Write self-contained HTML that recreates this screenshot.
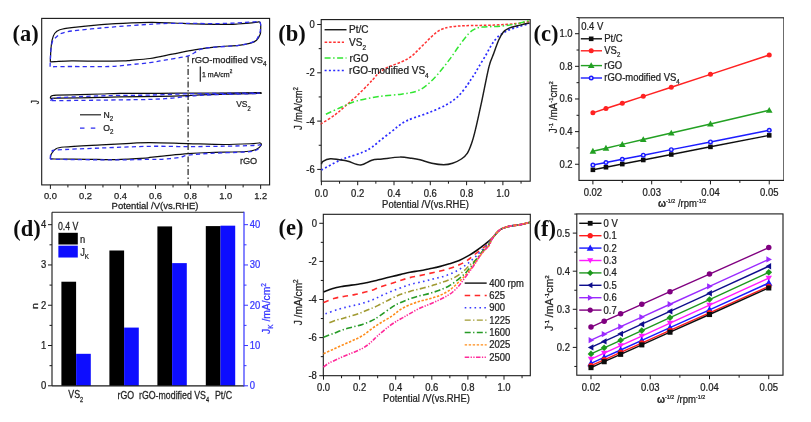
<!DOCTYPE html>
<html><head><meta charset="utf-8"><style>
html,body{margin:0;padding:0;background:#fff;overflow:hidden;}
svg{display:block;}
text{font-family:'Liberation Sans', Arial, sans-serif;}
</style></head><body>
<svg width="811" height="422" viewBox="0 0 811 422">
<defs><filter id="soft" x="0" y="0" width="100%" height="100%"><feGaussianBlur stdDeviation="0.35"/></filter></defs>
<rect width="811" height="422" fill="#fff"/>
<g filter="url(#soft)">
<text x="12.4" y="40.6" style="font-family:Liberation Serif, Times New Roman, serif;font-weight:bold;font-size:22.5px" fill="#111">(a)</text>
<rect x="41.7" y="18.4" width="227.9" height="166.5" fill="none" stroke="#1a1a1a" stroke-width="1.1"/>
<line x1="50.4" y1="184.9" x2="50.4" y2="188.9" stroke="#1a1a1a" stroke-width="1"/>
<line x1="85.44" y1="184.9" x2="85.44" y2="188.9" stroke="#1a1a1a" stroke-width="1"/>
<line x1="120.48" y1="184.9" x2="120.48" y2="188.9" stroke="#1a1a1a" stroke-width="1"/>
<line x1="155.52" y1="184.9" x2="155.52" y2="188.9" stroke="#1a1a1a" stroke-width="1"/>
<line x1="190.56" y1="184.9" x2="190.56" y2="188.9" stroke="#1a1a1a" stroke-width="1"/>
<line x1="225.6" y1="184.9" x2="225.6" y2="188.9" stroke="#1a1a1a" stroke-width="1"/>
<line x1="260.64" y1="184.9" x2="260.64" y2="188.9" stroke="#1a1a1a" stroke-width="1"/>
<line x1="67.92" y1="184.9" x2="67.92" y2="187.4" stroke="#1a1a1a" stroke-width="1"/>
<line x1="102.96" y1="184.9" x2="102.96" y2="187.4" stroke="#1a1a1a" stroke-width="1"/>
<line x1="138" y1="184.9" x2="138" y2="187.4" stroke="#1a1a1a" stroke-width="1"/>
<line x1="173.04" y1="184.9" x2="173.04" y2="187.4" stroke="#1a1a1a" stroke-width="1"/>
<line x1="208.08" y1="184.9" x2="208.08" y2="187.4" stroke="#1a1a1a" stroke-width="1"/>
<line x1="243.12" y1="184.9" x2="243.12" y2="187.4" stroke="#1a1a1a" stroke-width="1"/>
<text transform="translate(50.4,198.5) scale(1.0000,1)" font-size="9.3" text-anchor="middle" fill="#222" stroke="#222" stroke-width="0.25">0.0</text>
<text transform="translate(85.44,198.5) scale(1.0000,1)" font-size="9.3" text-anchor="middle" fill="#222" stroke="#222" stroke-width="0.25">0.2</text>
<text transform="translate(120.48,198.5) scale(1.0000,1)" font-size="9.3" text-anchor="middle" fill="#222" stroke="#222" stroke-width="0.25">0.4</text>
<text transform="translate(155.52,198.5) scale(1.0000,1)" font-size="9.3" text-anchor="middle" fill="#222" stroke="#222" stroke-width="0.25">0.6</text>
<text transform="translate(190.56,198.5) scale(1.0000,1)" font-size="9.3" text-anchor="middle" fill="#222" stroke="#222" stroke-width="0.25">0.8</text>
<text transform="translate(225.6,198.5) scale(1.0000,1)" font-size="9.3" text-anchor="middle" fill="#222" stroke="#222" stroke-width="0.25">1.0</text>
<text transform="translate(260.64,198.5) scale(1.0000,1)" font-size="9.3" text-anchor="middle" fill="#222" stroke="#222" stroke-width="0.25">1.2</text>
<text transform="translate(155,208.7) scale(1.0200,1)" font-size="9.3" text-anchor="middle" fill="#222" stroke="#222" stroke-width="0.25">Potential /V(vs.RHE)</text>
<text transform="translate(39.1,102.2) rotate(-90) scale(0.8000,1)" font-size="10" text-anchor="middle" fill="#222" stroke="#222" stroke-width="0.25">J</text>
<path d="M50.3,61.8 C50.35,60.67 50.5,57.13 50.6,55 C50.7,52.87 50.65,51.47 50.9,49 C51.15,46.53 51.48,42.78 52.1,40.2 C52.72,37.62 53.32,35.23 54.6,33.5 C55.88,31.77 56.97,30.78 59.8,29.8 C62.63,28.82 64.7,28.47 71.6,27.6 C78.5,26.73 91.23,25.4 101.2,24.6 C111.17,23.8 122.87,23.17 131.4,22.8 C139.93,22.43 145.4,22.37 152.4,22.4 C159.4,22.43 166.42,22.75 173.4,23 C180.38,23.25 187.32,23.68 194.3,23.9 C201.28,24.12 209.35,24.22 215.3,24.3 C221.25,24.38 226.22,24.45 230,24.4 C233.78,24.35 235.33,24.17 238,24 C240.67,23.83 243.67,23.6 246,23.4 C248.33,23.2 250.1,23.02 252,22.8 C253.9,22.58 256.13,22.25 257.4,22.1 C258.67,21.95 259.07,21.5 259.6,21.9 C260.13,22.3 260.42,23.32 260.6,24.5 C260.78,25.68 260.77,27.38 260.7,29 C260.63,30.62 260.9,32.33 260.2,34.2 C259.5,36.07 258.1,38.72 256.5,40.2 C254.9,41.68 253.55,42.25 250.6,43.1 C247.65,43.95 244.47,44.68 238.8,45.3 C233.13,45.92 224,46.05 216.6,46.8 C209.2,47.55 201.8,48.57 194.4,49.8 C187,51.03 179.6,52.75 172.2,54.2 C164.8,55.65 156.9,57.48 150,58.5 C143.1,59.52 135.23,59.9 130.8,60.3 C126.37,60.7 128.33,60.75 123.4,60.9 C118.47,61.05 109.83,61.2 101.2,61.2 C92.57,61.2 79.3,60.83 71.6,60.9 C63.9,60.97 58.55,61.45 55,61.6 C51.45,61.75 51.08,61.77 50.3,61.8" fill="none" stroke="#111" stroke-width="1.2"/>
<path d="M50.1,66.8 C50.15,65.33 50.28,60.63 50.4,58 C50.52,55.37 50.47,53.73 50.8,51 C51.13,48.27 51.52,43.9 52.4,41.6 C53.28,39.3 54.63,38.55 56.1,37.2 C57.57,35.85 58.62,34.53 61.2,33.5 C63.78,32.47 64.93,31.92 71.6,31 C78.27,30.08 91.23,28.92 101.2,28 C111.17,27.08 122.87,26.15 131.4,25.5 C139.93,24.85 147.15,24.43 152.4,24.1 C157.65,23.77 158.3,23.63 162.9,23.5 C167.5,23.37 174.77,23.32 180,23.3 C185.23,23.28 188.42,23.35 194.3,23.4 C200.18,23.45 208.3,23.67 215.3,23.6 C222.3,23.53 230.18,23.27 236.3,23 C242.42,22.73 248.52,22.23 252,22 C255.48,21.77 255.98,21.7 257.2,21.6 C258.42,21.5 258.73,21.02 259.3,21.4 C259.87,21.78 260.42,22.63 260.6,23.9 C260.78,25.17 260.47,27.77 260.4,29 C260.33,30.23 260.6,29.93 260.2,31.3 C259.8,32.67 259.1,35.48 258,37.2 C256.9,38.92 256.8,40.25 253.6,41.6 C250.4,42.95 246.2,44.3 238.8,45.3 C231.4,46.3 215.62,46.93 209.2,47.6 C202.78,48.27 202.77,48.45 200.3,49.3 C197.83,50.15 196.37,51.62 194.4,52.7 C192.43,53.78 190.97,54.98 188.5,55.8 C186.03,56.62 183.55,56.88 179.6,57.6 C175.65,58.32 169.73,59.27 164.8,60.1 C159.87,60.93 155.67,61.85 150,62.6 C144.33,63.35 137.7,63.95 130.8,64.6 C123.9,65.25 118.47,66.18 108.6,66.5 C98.73,66.82 80.53,66.47 71.6,66.5 C62.67,66.53 58.58,66.65 55,66.7 C51.42,66.75 50.92,66.78 50.1,66.8" fill="none" stroke="#2f2ff0" stroke-width="1.3" stroke-dasharray="4.2,3.2"/>
<path d="M50.3,98.4 C50.37,98.1 50.37,97.07 50.7,96.6 C51.03,96.13 51.28,95.85 52.3,95.6 C53.32,95.35 52.18,95.27 56.8,95.1 C61.42,94.93 72.6,94.78 80,94.6 C87.4,94.42 94.53,94.2 101.2,94 C107.87,93.8 110.2,93.52 120,93.4 C129.8,93.28 146.67,93.35 160,93.3 C173.33,93.25 186.67,93.18 200,93.1 C213.33,93.02 230.33,92.88 240,92.8 C249.67,92.72 254.5,92.6 258,92.6 C261.5,92.6 261,92.65 261,92.8 C261,92.95 263.17,93.27 258,93.5 C252.83,93.73 239.67,93.97 230,94.2 C220.33,94.43 207,94.67 200,94.9 C193,95.13 194.67,95.35 188,95.6 C181.33,95.85 171.33,96.2 160,96.4 C148.67,96.6 129.8,96.63 120,96.8 C110.2,96.97 111.73,97.17 101.2,97.4 C90.67,97.63 65.25,98.05 56.8,98.2 C48.35,98.35 51.55,98.28 50.5,98.3" fill="none" stroke="#111" stroke-width="1.2"/>
<path d="M50.2,100.6 C50.5,100.38 51.03,99.77 52,99.3 C52.97,98.83 53.83,98.13 56,97.8 C58.17,97.47 61,97.5 65,97.3 C69,97.1 74.17,96.83 80,96.6 C85.83,96.37 93.33,96.1 100,95.9 C106.67,95.7 111.67,95.53 120,95.4 C128.33,95.27 139.17,95.35 150,95.1 C160.83,94.85 173.33,94.18 185,93.9 C196.67,93.62 208.33,93.55 220,93.4 C231.67,93.25 248.5,93.03 255,93 C261.5,92.97 259,93.1 259,93.2 C259,93.3 261.5,93.38 255,93.6 C248.5,93.82 229.17,94.2 220,94.5 C210.83,94.8 205.33,95.1 200,95.4 C194.67,95.7 193,95.82 188,96.3 C183,96.78 176.33,97.78 170,98.3 C163.67,98.82 158.33,99.13 150,99.4 C141.67,99.67 131.67,99.73 120,99.9 C108.33,100.07 90,100.28 80,100.4 C70,100.52 64.97,100.57 60,100.6 C55.03,100.63 51.83,100.6 50.2,100.6" fill="none" stroke="#2f2ff0" stroke-width="1.3" stroke-dasharray="4.2,3.2"/>
<path d="M50.4,158.6 C50.47,158.08 50.6,156.32 50.8,155.5 C51,154.68 50.85,154.75 51.6,153.7 C52.35,152.65 53.2,150.32 55.3,149.2 C57.4,148.08 56.55,147.73 64.2,147 C71.85,146.27 90.1,145.42 101.2,144.8 C112.3,144.18 122.67,143.67 130.8,143.3 C138.93,142.93 140.47,142.55 150,142.6 C159.53,142.65 175.67,143.28 188,143.6 C200.33,143.92 213.07,144.5 224,144.5 C234.93,144.5 247.57,143.85 253.6,143.6 C259.63,143.35 258.97,142.68 260.2,143 C261.43,143.32 261.62,144.47 261,145.5 C260.38,146.53 258.97,148.2 256.5,149.2 C254.03,150.2 254.08,150.95 246.2,151.5 C238.32,152.05 218.9,152.13 209.2,152.5 C199.5,152.87 195.4,153.13 188,153.7 C180.6,154.27 171.13,155.28 164.8,155.9 C158.47,156.52 153.2,157.03 150,157.4 C146.8,157.77 151.27,157.73 145.6,158.1 C139.93,158.47 125.87,159.4 116,159.6 C106.13,159.8 96.57,159.4 86.4,159.3 C76.23,159.2 61,159.12 55,159 C49,158.88 51.17,158.67 50.4,158.6" fill="none" stroke="#111" stroke-width="1.2"/>
<path d="M50.3,159 C50.35,158.33 50.23,156.17 50.6,155 C50.97,153.83 51.47,152.83 52.5,152 C53.53,151.17 48.68,150.67 56.8,150 C64.92,149.33 85.67,148.62 101.2,148 C116.73,147.38 135.53,146.53 150,146.3 C164.47,146.07 175.67,146.62 188,146.6 C200.33,146.58 213.07,146.38 224,146.2 C234.93,146.02 247.52,145.73 253.6,145.5 C259.68,145.27 259.6,144.47 260.5,144.8 C261.4,145.13 259.67,146.63 259,147.5 C258.33,148.37 258.63,149.27 256.5,150 C254.37,150.73 254.08,151.33 246.2,151.9 C238.32,152.47 218.9,152.85 209.2,153.4 C199.5,153.95 192.93,154.53 188,155.2 C183.07,155.87 183.93,156.72 179.6,157.4 C175.27,158.08 166.93,158.98 162,159.3 C157.07,159.62 157.67,159.2 150,159.3 C142.33,159.4 131,159.88 116,159.9 C101,159.92 70.95,159.55 60,159.4 C49.05,159.25 51.92,159.07 50.3,159" fill="none" stroke="#2f2ff0" stroke-width="1.3" stroke-dasharray="4.2,3.2"/>
<line x1="188.1" y1="55.5" x2="188.1" y2="185" stroke="#222" stroke-width="1.2" stroke-dasharray="6.2,2.4,1.5,2.4" stroke-dashoffset="-0.9"/>
<text transform="translate(191.6,62.6) scale(1.0000,1)" font-size="9.4" text-anchor="start" fill="#222" stroke="#222" stroke-width="0.25">rGO-modified VS<tspan font-size="6.3" dy="3.3">4</tspan></text>
<line x1="200.3" y1="66.5" x2="200.3" y2="81.8" stroke="#222" stroke-width="1.2"/>
<text transform="translate(202,77) scale(1.0000,1)" font-size="7" text-anchor="start" fill="#222" stroke="#222" stroke-width="0.25">1 mA/cm<tspan font-size="4.6" dy="-3.6">2</tspan></text>
<text transform="translate(236.2,107.2) scale(0.9000,1)" font-size="9.4" text-anchor="start" fill="#222" stroke="#222" stroke-width="0.25">VS<tspan font-size="6.3" dy="3.6">2</tspan></text>
<text transform="translate(239.9,163.9) scale(0.9600,1)" font-size="9.6" text-anchor="start" fill="#222" stroke="#222" stroke-width="0.25">rGO</text>
<line x1="80" y1="114.8" x2="101" y2="114.8" stroke="#222" stroke-width="1.2"/>
<text transform="translate(103.4,117.9) scale(0.9800,1)" font-size="8.8" text-anchor="start" fill="#222" stroke="#222" stroke-width="0.25">N<tspan font-size="6.3" dy="3.4">2</tspan></text>
<line x1="80" y1="128.1" x2="101" y2="128.1" stroke="#2f2ff0" stroke-width="1.2" stroke-dasharray="4.5,6.3"/>
<text transform="translate(103.2,130.7) scale(0.9800,1)" font-size="8.8" text-anchor="start" fill="#222" stroke="#222" stroke-width="0.25">O<tspan font-size="6.3" dy="3.6">2</tspan></text>
<text x="278.3" y="40.6" style="font-family:Liberation Serif, Times New Roman, serif;font-weight:bold;font-size:22.5px" fill="#111">(b)</text>
<rect x="321.2" y="19.6" width="209" height="161.6" fill="none" stroke="#1a1a1a" stroke-width="1.1"/>
<line x1="321.4" y1="181.2" x2="321.4" y2="185.2" stroke="#1a1a1a" stroke-width="1"/>
<line x1="357.7" y1="181.2" x2="357.7" y2="185.2" stroke="#1a1a1a" stroke-width="1"/>
<line x1="394" y1="181.2" x2="394" y2="185.2" stroke="#1a1a1a" stroke-width="1"/>
<line x1="430.3" y1="181.2" x2="430.3" y2="185.2" stroke="#1a1a1a" stroke-width="1"/>
<line x1="466.6" y1="181.2" x2="466.6" y2="185.2" stroke="#1a1a1a" stroke-width="1"/>
<line x1="502.9" y1="181.2" x2="502.9" y2="185.2" stroke="#1a1a1a" stroke-width="1"/>
<line x1="339.55" y1="181.2" x2="339.55" y2="183.7" stroke="#1a1a1a" stroke-width="1"/>
<line x1="375.85" y1="181.2" x2="375.85" y2="183.7" stroke="#1a1a1a" stroke-width="1"/>
<line x1="412.15" y1="181.2" x2="412.15" y2="183.7" stroke="#1a1a1a" stroke-width="1"/>
<line x1="448.45" y1="181.2" x2="448.45" y2="183.7" stroke="#1a1a1a" stroke-width="1"/>
<line x1="484.75" y1="181.2" x2="484.75" y2="183.7" stroke="#1a1a1a" stroke-width="1"/>
<line x1="521.05" y1="181.2" x2="521.05" y2="183.7" stroke="#1a1a1a" stroke-width="1"/>
<text transform="translate(321.4,197.2) scale(0.9300,1)" font-size="10.2" text-anchor="middle" fill="#222" stroke="#222" stroke-width="0.25">0.0</text>
<text transform="translate(357.7,197.2) scale(0.9300,1)" font-size="10.2" text-anchor="middle" fill="#222" stroke="#222" stroke-width="0.25">0.2</text>
<text transform="translate(394,197.2) scale(0.9300,1)" font-size="10.2" text-anchor="middle" fill="#222" stroke="#222" stroke-width="0.25">0.4</text>
<text transform="translate(430.3,197.2) scale(0.9300,1)" font-size="10.2" text-anchor="middle" fill="#222" stroke="#222" stroke-width="0.25">0.6</text>
<text transform="translate(466.6,197.2) scale(0.9300,1)" font-size="10.2" text-anchor="middle" fill="#222" stroke="#222" stroke-width="0.25">0.8</text>
<text transform="translate(502.9,197.2) scale(0.9300,1)" font-size="10.2" text-anchor="middle" fill="#222" stroke="#222" stroke-width="0.25">1.0</text>
<line x1="321.2" y1="24.5" x2="317.2" y2="24.5" stroke="#1a1a1a" stroke-width="1"/>
<line x1="321.2" y1="72.8" x2="317.2" y2="72.8" stroke="#1a1a1a" stroke-width="1"/>
<line x1="321.2" y1="121.1" x2="317.2" y2="121.1" stroke="#1a1a1a" stroke-width="1"/>
<line x1="321.2" y1="169.4" x2="317.2" y2="169.4" stroke="#1a1a1a" stroke-width="1"/>
<line x1="321.2" y1="48.65" x2="318.7" y2="48.65" stroke="#1a1a1a" stroke-width="1"/>
<line x1="321.2" y1="96.95" x2="318.7" y2="96.95" stroke="#1a1a1a" stroke-width="1"/>
<line x1="321.2" y1="145.25" x2="318.7" y2="145.25" stroke="#1a1a1a" stroke-width="1"/>
<text transform="translate(314.7,27.9) scale(0.9300,1)" font-size="10.2" text-anchor="end" fill="#222" stroke="#222" stroke-width="0.25">0</text>
<text transform="translate(314.7,76.2) scale(0.9300,1)" font-size="10.2" text-anchor="end" fill="#222" stroke="#222" stroke-width="0.25">-2</text>
<text transform="translate(314.7,124.5) scale(0.9300,1)" font-size="10.2" text-anchor="end" fill="#222" stroke="#222" stroke-width="0.25">-4</text>
<text transform="translate(314.7,172.8) scale(0.9300,1)" font-size="10.2" text-anchor="end" fill="#222" stroke="#222" stroke-width="0.25">-6</text>
<text transform="translate(425.5,207.7) scale(0.9300,1)" font-size="10.2" text-anchor="middle" fill="#222" stroke="#222" stroke-width="0.25">Potential /V(vs.RHE)</text>
<text transform="translate(301.5,108.5) rotate(-90) scale(0.9300,1)" font-size="10.2" text-anchor="middle" fill="#222" stroke="#222" stroke-width="0.25">J /mA/cm<tspan font-size="6.5" dy="-3.5">2</tspan></text>
<path d="M321.4,123.3 C321.53,123.27 319.97,124.48 322.2,123.1 C324.43,121.72 330.97,117.83 334.8,115 C338.63,112.17 341.5,109.32 345.2,106.1 C348.9,102.88 353.07,99.4 357,95.7 C360.93,92 365.97,86.82 368.8,83.9 C371.63,80.98 372.38,79.97 374,78.2 C375.62,76.43 376.57,74.95 378.5,73.3 C380.43,71.65 383.23,69.63 385.6,68.3 C387.97,66.97 390.08,66.35 392.7,65.3 C395.32,64.25 398.68,63.15 401.3,62 C403.92,60.85 406.28,59.72 408.4,58.4 C410.52,57.08 412.12,55.77 414,54.1 C415.88,52.43 417.8,50.28 419.7,48.4 C421.6,46.52 423.5,44.68 425.4,42.8 C427.3,40.92 429.2,38.88 431.1,37.1 C433,35.32 434.92,33.45 436.8,32.1 C438.68,30.75 440.28,29.83 442.4,29 C444.52,28.17 445.83,27.65 449.5,27.1 C453.17,26.55 456.98,26.03 464.4,25.7 C471.82,25.37 485.37,25.45 494,25.1 C502.63,24.75 510.23,24.2 516.2,23.6 C522.17,23 527.53,21.85 529.8,21.5" fill="none" stroke="#ff3333" stroke-width="1.5" stroke-dasharray="2.6,1.7"/>
<path d="M325.9,114.2 C328.62,112.97 337.02,109.02 342.2,106.8 C347.38,104.58 350.83,102.62 357,100.9 C363.17,99.18 371.8,97.62 379.2,96.5 C386.6,95.38 395.23,95.07 401.4,94.2 C407.57,93.33 412.02,92.77 416.2,91.3 C420.38,89.83 422.9,88.25 426.5,85.4 C430.1,82.55 433.95,78.53 437.8,74.2 C441.65,69.87 445.9,64.33 449.6,59.4 C453.3,54.47 456.8,48.92 460,44.6 C463.2,40.28 466.35,36.08 468.8,33.5 C471.25,30.92 472.48,30.17 474.7,29.1 C476.92,28.03 477.65,27.6 482.1,27.1 C486.55,26.6 495.72,26.63 501.4,26.1 C507.08,25.57 511.47,24.85 516.2,23.9 C520.93,22.95 527.53,20.98 529.8,20.4" fill="none" stroke="#33e633" stroke-width="1.5" stroke-dasharray="6,2.5,1.5,2.5"/>
<path d="M321.4,170.1 C324.37,168.5 334.5,162.72 339.2,160.5 C343.9,158.28 345.65,158.18 349.6,156.8 C353.55,155.42 359.2,153.78 362.9,152.2 C366.6,150.62 368.78,149.37 371.8,147.3 C374.82,145.23 377.8,142.35 381,139.8 C384.2,137.25 388.17,134.23 391,132 C393.83,129.77 395.67,128.13 398,126.4 C400.33,124.67 402.47,122.98 405,121.6 C407.53,120.22 409.07,119.65 413.2,118.1 C417.32,116.55 424.23,114.52 429.75,112.3 C435.27,110.08 441.59,107.43 446.3,104.8 C451.01,102.17 454.4,99.93 458,96.5 C461.6,93.07 465.62,87.23 467.9,84.2 C470.18,81.17 470.6,79.97 471.7,78.3 C472.8,76.63 473.3,76.15 474.5,74.2 C475.7,72.25 477.08,69.65 478.9,66.6 C480.72,63.55 483.33,59.45 485.4,55.9 C487.47,52.35 489.52,48.17 491.3,45.3 C493.08,42.43 494.52,40.48 496.1,38.7 C497.68,36.92 498.63,36.07 500.8,34.6 C502.97,33.13 505.93,31.28 509.1,29.9 C512.27,28.52 516.4,27.37 519.8,26.3 C523.2,25.23 527.88,23.97 529.5,23.5" fill="none" stroke="#2a2aff" stroke-width="1.7" stroke-dasharray="2,2.3"/>
<path d="M321.4,164.2 C321.67,163.72 321.5,162.22 323,161.3 C324.5,160.38 327.7,158.95 330.4,158.7 C333.1,158.45 336.25,159.37 339.2,159.8 C342.15,160.23 344.52,160.43 348.1,161.3 C351.68,162.17 356.75,165.18 360.7,165 C364.65,164.82 368.23,161.2 371.8,160.2 C375.37,159.2 377.42,159.52 382.1,159 C386.78,158.48 394.97,157.22 399.9,157.1 C404.83,156.98 408.35,157.85 411.7,158.3 C415.05,158.75 416.65,158.98 420,159.8 C423.35,160.62 427.85,162.38 431.8,163.2 C435.75,164.02 440.23,164.7 443.7,164.7 C447.17,164.7 449.65,164.15 452.6,163.2 C455.55,162.25 458.93,160.68 461.4,159 C463.87,157.32 465.67,155.8 467.4,153.1 C469.13,150.4 470.45,146.75 471.8,142.8 C473.15,138.85 473.78,136.6 475.5,129.4 C477.22,122.2 479.85,110.07 482.1,99.6 C484.35,89.13 487.07,74.27 489,66.6 C490.93,58.93 492.12,57.95 493.7,53.6 C495.28,49.25 496.92,44.07 498.5,40.5 C500.08,36.93 501.43,34.27 503.2,32.2 C504.97,30.13 506.73,29.18 509.1,28.1 C511.47,27.02 514,26.55 517.4,25.7 C520.8,24.85 527.48,23.45 529.5,23" fill="none" stroke="#1a1a1a" stroke-width="1.45"/>
<line x1="324.6" y1="29.7" x2="346.5" y2="29.7" stroke="#1a1a1a" stroke-width="1.45"/>
<text transform="translate(349.1,33.1) scale(0.9800,1)" font-size="10.2" text-anchor="start" fill="#222" stroke="#222" stroke-width="0.25">Pt/C</text>
<line x1="324.6" y1="42.2" x2="344" y2="42.2" stroke="#ff3333" stroke-width="1.5" stroke-dasharray="2.6,1.7"/>
<text transform="translate(349.1,46.3) scale(0.9800,1)" font-size="10.2" text-anchor="start" fill="#222" stroke="#222" stroke-width="0.25">VS<tspan font-size="6.5" dy="3.6">2</tspan></text>
<line x1="324.6" y1="58" x2="346.5" y2="58" stroke="#33e633" stroke-width="1.5" stroke-dasharray="6,2.5,1.5,2.5"/>
<text transform="translate(349.6,61.5) scale(0.9800,1)" font-size="10.2" text-anchor="start" fill="#222" stroke="#222" stroke-width="0.25">rGO</text>
<line x1="324.6" y1="70.5" x2="344" y2="70.5" stroke="#2a2aff" stroke-width="1.6" stroke-dasharray="2,2.3"/>
<text transform="translate(349.1,74) scale(0.9800,1)" font-size="10.2" text-anchor="start" fill="#222" stroke="#222" stroke-width="0.25">rGO-modified VS<tspan font-size="6.5" dy="3.6">4</tspan></text>
<text x="533.5" y="41" style="font-family:Liberation Serif, Times New Roman, serif;font-weight:bold;font-size:22.5px" fill="#111">(c)</text>
<rect x="579" y="17.8" width="204.9" height="162.6" fill="none" stroke="#1a1a1a" stroke-width="1.1"/>
<line x1="592.9" y1="180.4" x2="592.9" y2="184.4" stroke="#1a1a1a" stroke-width="1"/>
<line x1="651.68" y1="180.4" x2="651.68" y2="184.4" stroke="#1a1a1a" stroke-width="1"/>
<line x1="710.46" y1="180.4" x2="710.46" y2="184.4" stroke="#1a1a1a" stroke-width="1"/>
<line x1="769.24" y1="180.4" x2="769.24" y2="184.4" stroke="#1a1a1a" stroke-width="1"/>
<line x1="622.29" y1="180.4" x2="622.29" y2="182.9" stroke="#1a1a1a" stroke-width="1"/>
<line x1="681.07" y1="180.4" x2="681.07" y2="182.9" stroke="#1a1a1a" stroke-width="1"/>
<line x1="739.85" y1="180.4" x2="739.85" y2="182.9" stroke="#1a1a1a" stroke-width="1"/>
<text transform="translate(592.9,195.6) scale(0.9300,1)" font-size="10.2" text-anchor="middle" fill="#222" stroke="#222" stroke-width="0.25">0.02</text>
<text transform="translate(651.68,195.6) scale(0.9300,1)" font-size="10.2" text-anchor="middle" fill="#222" stroke="#222" stroke-width="0.25">0.03</text>
<text transform="translate(710.46,195.6) scale(0.9300,1)" font-size="10.2" text-anchor="middle" fill="#222" stroke="#222" stroke-width="0.25">0.04</text>
<text transform="translate(769.24,195.6) scale(0.9300,1)" font-size="10.2" text-anchor="middle" fill="#222" stroke="#222" stroke-width="0.25">0.05</text>
<line x1="579" y1="164.26" x2="575" y2="164.26" stroke="#1a1a1a" stroke-width="1"/>
<line x1="579" y1="131.62" x2="575" y2="131.62" stroke="#1a1a1a" stroke-width="1"/>
<line x1="579" y1="98.98" x2="575" y2="98.98" stroke="#1a1a1a" stroke-width="1"/>
<line x1="579" y1="66.34" x2="575" y2="66.34" stroke="#1a1a1a" stroke-width="1"/>
<line x1="579" y1="33.7" x2="575" y2="33.7" stroke="#1a1a1a" stroke-width="1"/>
<line x1="579" y1="147.94" x2="576.5" y2="147.94" stroke="#1a1a1a" stroke-width="1"/>
<line x1="579" y1="115.3" x2="576.5" y2="115.3" stroke="#1a1a1a" stroke-width="1"/>
<line x1="579" y1="82.66" x2="576.5" y2="82.66" stroke="#1a1a1a" stroke-width="1"/>
<line x1="579" y1="50.02" x2="576.5" y2="50.02" stroke="#1a1a1a" stroke-width="1"/>
<line x1="579" y1="17.38" x2="576.5" y2="17.38" stroke="#1a1a1a" stroke-width="1"/>
<text transform="translate(572.6,167.66) scale(0.9300,1)" font-size="10.2" text-anchor="end" fill="#222" stroke="#222" stroke-width="0.25">0.2</text>
<text transform="translate(572.6,135.02) scale(0.9300,1)" font-size="10.2" text-anchor="end" fill="#222" stroke="#222" stroke-width="0.25">0.4</text>
<text transform="translate(572.6,102.38) scale(0.9300,1)" font-size="10.2" text-anchor="end" fill="#222" stroke="#222" stroke-width="0.25">0.6</text>
<text transform="translate(572.6,69.74) scale(0.9300,1)" font-size="10.2" text-anchor="end" fill="#222" stroke="#222" stroke-width="0.25">0.8</text>
<text transform="translate(572.6,37.1) scale(0.9300,1)" font-size="10.2" text-anchor="end" fill="#222" stroke="#222" stroke-width="0.25">1.0</text>
<text transform="translate(658,206.8) scale(0.9300,1)" font-size="10.2" text-anchor="start" fill="#222" stroke="#222" stroke-width="0.25"><tspan font-weight="bold">&#969;</tspan><tspan font-size="5.8" dy="-4">-1/2</tspan><tspan dy="4"> /rpm</tspan><tspan font-size="5.8" dy="-4">-1/2</tspan></text>
<text transform="translate(557,107.2) rotate(-90) scale(0.9700,1)" font-size="10.2" text-anchor="middle" fill="#222" stroke="#222" stroke-width="0.25">J<tspan font-size="6" dy="-4">-1</tspan><tspan dy="4"> /mA</tspan><tspan font-size="6" dy="-4">-1</tspan><tspan dy="4">cm</tspan><tspan font-size="6" dy="-4">2</tspan></text>
<path d="M592.9,169.81 L605.96,167.26 L622.29,164.07 L643.28,159.97 L671.27,154.5 L710.46,146.85 L769.24,135.37" fill="none" stroke="#111" stroke-width="1.5"/>
<rect x="590.6" y="167.51" width="4.6" height="4.6" fill="#111"/>
<rect x="603.66" y="164.96" width="4.6" height="4.6" fill="#111"/>
<rect x="619.99" y="161.77" width="4.6" height="4.6" fill="#111"/>
<rect x="640.98" y="157.67" width="4.6" height="4.6" fill="#111"/>
<rect x="668.97" y="152.2" width="4.6" height="4.6" fill="#111"/>
<rect x="708.16" y="144.55" width="4.6" height="4.6" fill="#111"/>
<rect x="766.94" y="133.07" width="4.6" height="4.6" fill="#111"/>
<path d="M592.9,165.08 L605.96,162.5 L622.29,159.28 L643.28,155.14 L671.27,149.63 L710.46,141.9 L769.24,130.31" fill="none" stroke="#1a1aff" stroke-width="1.5"/>
<circle cx="592.9" cy="165.08" r="2.5" fill="#1a1aff"/><circle cx="592.9" cy="165.08" r="1.05" fill="#e4e4ff"/>
<circle cx="605.96" cy="162.5" r="2.5" fill="#1a1aff"/><circle cx="605.96" cy="162.5" r="1.05" fill="#e4e4ff"/>
<circle cx="622.29" cy="159.28" r="2.5" fill="#1a1aff"/><circle cx="622.29" cy="159.28" r="1.05" fill="#e4e4ff"/>
<circle cx="643.28" cy="155.14" r="2.5" fill="#1a1aff"/><circle cx="643.28" cy="155.14" r="1.05" fill="#e4e4ff"/>
<circle cx="671.27" cy="149.63" r="2.5" fill="#1a1aff"/><circle cx="671.27" cy="149.63" r="1.05" fill="#e4e4ff"/>
<circle cx="710.46" cy="141.9" r="2.5" fill="#1a1aff"/><circle cx="710.46" cy="141.9" r="1.05" fill="#e4e4ff"/>
<circle cx="769.24" cy="130.31" r="2.5" fill="#1a1aff"/><circle cx="769.24" cy="130.31" r="1.05" fill="#e4e4ff"/>
<path d="M592.9,151.2 L605.96,148.17 L622.29,144.38 L643.28,139.5 L671.27,133 L710.46,123.9 L769.24,110.24" fill="none" stroke="#22a022" stroke-width="1.5"/>
<path d="M592.9,147.87 L596.24,153.71 L589.56,153.71 Z" fill="#22a022"/>
<path d="M605.96,144.83 L609.3,150.67 L602.63,150.67 Z" fill="#22a022"/>
<path d="M622.29,141.04 L625.62,146.88 L618.95,146.88 Z" fill="#22a022"/>
<path d="M643.28,136.17 L646.62,142 L639.95,142 Z" fill="#22a022"/>
<path d="M671.27,129.66 L674.61,135.5 L667.94,135.5 Z" fill="#22a022"/>
<path d="M710.46,120.56 L713.8,126.4 L707.12,126.4 Z" fill="#22a022"/>
<path d="M769.24,106.91 L772.58,112.74 L765.9,112.74 Z" fill="#22a022"/>
<path d="M592.9,112.85 L605.96,108.57 L622.29,103.22 L643.28,96.35 L671.27,87.18 L710.46,74.34 L769.24,55.08" fill="none" stroke="#ff2020" stroke-width="1.5"/>
<circle cx="592.9" cy="112.85" r="2.5" fill="#ff2020"/>
<circle cx="605.96" cy="108.57" r="2.5" fill="#ff2020"/>
<circle cx="622.29" cy="103.22" r="2.5" fill="#ff2020"/>
<circle cx="643.28" cy="96.35" r="2.5" fill="#ff2020"/>
<circle cx="671.27" cy="87.18" r="2.5" fill="#ff2020"/>
<circle cx="710.46" cy="74.34" r="2.5" fill="#ff2020"/>
<circle cx="769.24" cy="55.08" r="2.5" fill="#ff2020"/>
<text transform="translate(581.2,29.6) scale(0.9300,1)" font-size="10.2" text-anchor="start" fill="#222" stroke="#222" stroke-width="0.25">0.4 V</text>
<line x1="580.8" y1="38.8" x2="602" y2="38.8" stroke="#111" stroke-width="1.4"/>
<rect x="588.9" y="36.5" width="4.6" height="4.6" fill="#111"/>
<text transform="translate(604.3,42.2) scale(0.9300,1)" font-size="10.2" text-anchor="start" fill="#222" stroke="#222" stroke-width="0.25">Pt/C</text>
<line x1="580.8" y1="50.8" x2="602" y2="50.8" stroke="#ff2020" stroke-width="1.4"/>
<circle cx="591.2" cy="50.8" r="2.5" fill="#ff2020"/>
<text transform="translate(604.3,54.2) scale(0.9300,1)" font-size="10.2" text-anchor="start" fill="#222" stroke="#222" stroke-width="0.25">VS<tspan font-size="6.5" dy="2.5">2</tspan></text>
<line x1="580.8" y1="65.6" x2="602" y2="65.6" stroke="#22a022" stroke-width="1.4"/>
<path d="M591.2,62.26 L594.54,68.1 L587.87,68.1 Z" fill="#22a022"/>
<text transform="translate(604.3,69) scale(0.9300,1)" font-size="10.2" text-anchor="start" fill="#222" stroke="#222" stroke-width="0.25">rGO</text>
<line x1="580.8" y1="78" x2="602" y2="78" stroke="#1a1aff" stroke-width="1.4"/>
<circle cx="591.2" cy="78" r="2.5" fill="#1a1aff"/><circle cx="591.2" cy="78" r="1.05" fill="#e4e4ff"/>
<text transform="translate(604.3,81.4) scale(0.9300,1)" font-size="10.2" text-anchor="start" fill="#222" stroke="#222" stroke-width="0.25">rGO-modified VS<tspan font-size="6.5" dy="2.5">4</tspan></text>
<text x="13.3" y="236.1" style="font-family:Liberation Serif, Times New Roman, serif;font-weight:bold;font-size:22.5px" fill="#111">(d)</text>
<rect x="61.4" y="281.72" width="14.7" height="104.08" fill="#000"/>
<rect x="76.1" y="353.82" width="14.7" height="31.98" fill="#0a0aff"/>
<rect x="109.4" y="250.5" width="14.7" height="135.3" fill="#000"/>
<rect x="124.1" y="327.6" width="14.7" height="58.2" fill="#0a0aff"/>
<rect x="157.4" y="226.41" width="14.7" height="159.39" fill="#000"/>
<rect x="172.1" y="263.11" width="14.7" height="122.69" fill="#0a0aff"/>
<rect x="205.8" y="226.09" width="14.7" height="159.71" fill="#000"/>
<rect x="220.5" y="225.69" width="14.7" height="160.11" fill="#0a0aff"/>
<line x1="52" y1="212.2" x2="244" y2="212.2" stroke="#1a1a1a" stroke-width="1.1"/>
<line x1="52" y1="212.2" x2="52" y2="385.8" stroke="#1a1a1a" stroke-width="1.1"/>
<line x1="52" y1="385.8" x2="244" y2="385.8" stroke="#1a1a1a" stroke-width="1.2"/>
<line x1="244" y1="211.7" x2="244" y2="386.4" stroke="#3535ff" stroke-width="1.2"/>
<line x1="52" y1="385.8" x2="48" y2="385.8" stroke="#1a1a1a" stroke-width="1"/>
<line x1="52" y1="345.52" x2="48" y2="345.52" stroke="#1a1a1a" stroke-width="1"/>
<line x1="52" y1="305.24" x2="48" y2="305.24" stroke="#1a1a1a" stroke-width="1"/>
<line x1="52" y1="264.96" x2="48" y2="264.96" stroke="#1a1a1a" stroke-width="1"/>
<line x1="52" y1="224.68" x2="48" y2="224.68" stroke="#1a1a1a" stroke-width="1"/>
<line x1="52" y1="365.66" x2="49.5" y2="365.66" stroke="#1a1a1a" stroke-width="1"/>
<line x1="52" y1="325.38" x2="49.5" y2="325.38" stroke="#1a1a1a" stroke-width="1"/>
<line x1="52" y1="285.1" x2="49.5" y2="285.1" stroke="#1a1a1a" stroke-width="1"/>
<line x1="52" y1="244.82" x2="49.5" y2="244.82" stroke="#1a1a1a" stroke-width="1"/>
<text transform="translate(46.2,389.2) scale(0.9300,1)" font-size="10.2" text-anchor="end" fill="#222" stroke="#222" stroke-width="0.25">0</text>
<text transform="translate(46.2,348.92) scale(0.9300,1)" font-size="10.2" text-anchor="end" fill="#222" stroke="#222" stroke-width="0.25">1</text>
<text transform="translate(46.2,308.64) scale(0.9300,1)" font-size="10.2" text-anchor="end" fill="#222" stroke="#222" stroke-width="0.25">2</text>
<text transform="translate(46.2,268.36) scale(0.9300,1)" font-size="10.2" text-anchor="end" fill="#222" stroke="#222" stroke-width="0.25">3</text>
<text transform="translate(46.2,228.08) scale(0.9300,1)" font-size="10.2" text-anchor="end" fill="#222" stroke="#222" stroke-width="0.25">4</text>
<line x1="244" y1="385.8" x2="248" y2="385.8" stroke="#3535ff" stroke-width="1"/>
<line x1="244" y1="345.52" x2="248" y2="345.52" stroke="#3535ff" stroke-width="1"/>
<line x1="244" y1="305.24" x2="248" y2="305.24" stroke="#3535ff" stroke-width="1"/>
<line x1="244" y1="264.96" x2="248" y2="264.96" stroke="#3535ff" stroke-width="1"/>
<line x1="244" y1="224.68" x2="248" y2="224.68" stroke="#3535ff" stroke-width="1"/>
<line x1="244" y1="365.66" x2="246.5" y2="365.66" stroke="#3535ff" stroke-width="1"/>
<line x1="244" y1="325.38" x2="246.5" y2="325.38" stroke="#3535ff" stroke-width="1"/>
<line x1="244" y1="285.1" x2="246.5" y2="285.1" stroke="#3535ff" stroke-width="1"/>
<line x1="244" y1="244.82" x2="246.5" y2="244.82" stroke="#3535ff" stroke-width="1"/>
<text transform="translate(249.8,389.2) scale(0.9300,1)" font-size="10.2" text-anchor="start" fill="#3535ff" stroke="#3535ff" stroke-width="0.25">0</text>
<text transform="translate(249.8,348.92) scale(0.9300,1)" font-size="10.2" text-anchor="start" fill="#3535ff" stroke="#3535ff" stroke-width="0.25">10</text>
<text transform="translate(249.8,308.64) scale(0.9300,1)" font-size="10.2" text-anchor="start" fill="#3535ff" stroke="#3535ff" stroke-width="0.25">20</text>
<text transform="translate(249.8,268.36) scale(0.9300,1)" font-size="10.2" text-anchor="start" fill="#3535ff" stroke="#3535ff" stroke-width="0.25">30</text>
<text transform="translate(249.8,228.08) scale(0.9300,1)" font-size="10.2" text-anchor="start" fill="#3535ff" stroke="#3535ff" stroke-width="0.25">40</text>
<text transform="translate(38.3,306) rotate(-90) scale(1.2000,1)" font-size="9" text-anchor="middle" fill="#222" stroke="#222" stroke-width="0.25">n</text>
<text transform="translate(270.3,308.5) rotate(-90) scale(1.0100,1)" font-size="10.2" text-anchor="middle" fill="#3535ff" stroke="#3535ff" stroke-width="0.25">J<tspan font-size="6.5" dy="3">K</tspan><tspan dy="-3"> /mA/cm</tspan><tspan font-size="6.5" dy="-4">2</tspan></text>
<text transform="translate(68.3,398.2) scale(0.8000,1)" font-size="11" text-anchor="start" fill="#222" stroke="#222" stroke-width="0.25">VS<tspan font-size="7" dy="3.6">2</tspan></text>
<text transform="translate(117.6,398.5) scale(0.8000,1)" font-size="11" text-anchor="start" fill="#222" stroke="#222" stroke-width="0.25">rGO</text>
<text transform="translate(139,398.5) scale(0.8000,1)" font-size="11" text-anchor="start" fill="#222" stroke="#222" stroke-width="0.25">rGO-modified VS<tspan font-size="7" dy="3.6">4</tspan></text>
<text transform="translate(215,398.5) scale(0.8000,1)" font-size="11" text-anchor="start" fill="#222" stroke="#222" stroke-width="0.25">Pt/C</text>
<text transform="translate(58,229.5) scale(0.8600,1)" font-size="10.2" text-anchor="start" fill="#222" stroke="#222" stroke-width="0.25">0.4 V</text>
<rect x="58.4" y="232.8" width="19.4" height="11.7" fill="#000"/>
<text transform="translate(80,242.6) scale(0.8800,1)" font-size="10.6" text-anchor="start" fill="#222" stroke="#222" stroke-width="0.25">n</text>
<rect x="58.4" y="245.7" width="19.4" height="11.8" fill="#0a0aff"/>
<text transform="translate(80.2,255.6) scale(0.8500,1)" font-size="11" text-anchor="start" fill="#222" stroke="#222" stroke-width="0.25">J<tspan font-size="7.2" dy="3.2">K</tspan></text>
<text x="278.5" y="235.4" style="font-family:Liberation Serif, Times New Roman, serif;font-weight:bold;font-size:22.5px" fill="#111">(e)</text>
<rect x="323.3" y="214.3" width="207" height="161.4" fill="none" stroke="#1a1a1a" stroke-width="1.1"/>
<line x1="323.5" y1="375.7" x2="323.5" y2="379.7" stroke="#1a1a1a" stroke-width="1"/>
<line x1="359.6" y1="375.7" x2="359.6" y2="379.7" stroke="#1a1a1a" stroke-width="1"/>
<line x1="395.7" y1="375.7" x2="395.7" y2="379.7" stroke="#1a1a1a" stroke-width="1"/>
<line x1="431.8" y1="375.7" x2="431.8" y2="379.7" stroke="#1a1a1a" stroke-width="1"/>
<line x1="467.9" y1="375.7" x2="467.9" y2="379.7" stroke="#1a1a1a" stroke-width="1"/>
<line x1="504" y1="375.7" x2="504" y2="379.7" stroke="#1a1a1a" stroke-width="1"/>
<line x1="341.55" y1="375.7" x2="341.55" y2="378.2" stroke="#1a1a1a" stroke-width="1"/>
<line x1="377.65" y1="375.7" x2="377.65" y2="378.2" stroke="#1a1a1a" stroke-width="1"/>
<line x1="413.75" y1="375.7" x2="413.75" y2="378.2" stroke="#1a1a1a" stroke-width="1"/>
<line x1="449.85" y1="375.7" x2="449.85" y2="378.2" stroke="#1a1a1a" stroke-width="1"/>
<line x1="485.95" y1="375.7" x2="485.95" y2="378.2" stroke="#1a1a1a" stroke-width="1"/>
<line x1="522.05" y1="375.7" x2="522.05" y2="378.2" stroke="#1a1a1a" stroke-width="1"/>
<text transform="translate(323.5,390.8) scale(0.9300,1)" font-size="10.2" text-anchor="middle" fill="#222" stroke="#222" stroke-width="0.25">0.0</text>
<text transform="translate(359.6,390.8) scale(0.9300,1)" font-size="10.2" text-anchor="middle" fill="#222" stroke="#222" stroke-width="0.25">0.2</text>
<text transform="translate(395.7,390.8) scale(0.9300,1)" font-size="10.2" text-anchor="middle" fill="#222" stroke="#222" stroke-width="0.25">0.4</text>
<text transform="translate(431.8,390.8) scale(0.9300,1)" font-size="10.2" text-anchor="middle" fill="#222" stroke="#222" stroke-width="0.25">0.6</text>
<text transform="translate(467.9,390.8) scale(0.9300,1)" font-size="10.2" text-anchor="middle" fill="#222" stroke="#222" stroke-width="0.25">0.8</text>
<text transform="translate(504,390.8) scale(0.9300,1)" font-size="10.2" text-anchor="middle" fill="#222" stroke="#222" stroke-width="0.25">1.0</text>
<line x1="323.3" y1="223.3" x2="319.3" y2="223.3" stroke="#1a1a1a" stroke-width="1"/>
<line x1="323.3" y1="261.4" x2="319.3" y2="261.4" stroke="#1a1a1a" stroke-width="1"/>
<line x1="323.3" y1="299.5" x2="319.3" y2="299.5" stroke="#1a1a1a" stroke-width="1"/>
<line x1="323.3" y1="337.6" x2="319.3" y2="337.6" stroke="#1a1a1a" stroke-width="1"/>
<line x1="323.3" y1="375.7" x2="319.3" y2="375.7" stroke="#1a1a1a" stroke-width="1"/>
<line x1="323.3" y1="242.35" x2="320.8" y2="242.35" stroke="#1a1a1a" stroke-width="1"/>
<line x1="323.3" y1="280.45" x2="320.8" y2="280.45" stroke="#1a1a1a" stroke-width="1"/>
<line x1="323.3" y1="318.55" x2="320.8" y2="318.55" stroke="#1a1a1a" stroke-width="1"/>
<line x1="323.3" y1="356.65" x2="320.8" y2="356.65" stroke="#1a1a1a" stroke-width="1"/>
<text transform="translate(316.9,226.7) scale(0.9300,1)" font-size="10.2" text-anchor="end" fill="#222" stroke="#222" stroke-width="0.25">0</text>
<text transform="translate(316.9,264.8) scale(0.9300,1)" font-size="10.2" text-anchor="end" fill="#222" stroke="#222" stroke-width="0.25">-2</text>
<text transform="translate(316.9,302.9) scale(0.9300,1)" font-size="10.2" text-anchor="end" fill="#222" stroke="#222" stroke-width="0.25">-4</text>
<text transform="translate(316.9,341) scale(0.9300,1)" font-size="10.2" text-anchor="end" fill="#222" stroke="#222" stroke-width="0.25">-6</text>
<text transform="translate(316.9,379.1) scale(0.9300,1)" font-size="10.2" text-anchor="end" fill="#222" stroke="#222" stroke-width="0.25">-8</text>
<text transform="translate(426.5,402) scale(0.9300,1)" font-size="10.2" text-anchor="middle" fill="#222" stroke="#222" stroke-width="0.25">Potential /V(vs.RHE)</text>
<text transform="translate(301.6,302.3) rotate(-90) scale(1.0000,1)" font-size="10.2" text-anchor="middle" fill="#222" stroke="#222" stroke-width="0.25">J /mA/cm<tspan font-size="6.5" dy="-4">2</tspan></text>
<path d="M323.5,292 C325.07,291.4 329.7,289.33 332.9,288.4 C336.1,287.47 337.78,287.22 342.7,286.4 C347.62,285.58 356.8,284.48 362.4,283.5 C368,282.52 370.03,281.98 376.3,280.5 C382.57,279.02 394.4,275.98 400,274.6 C405.6,273.22 406.62,272.85 409.9,272.2 C413.18,271.55 416.42,271.28 419.7,270.7 C422.98,270.12 426.32,269.38 429.6,268.7 C432.88,268.02 436.12,267.42 439.4,266.6 C442.68,265.78 446,264.83 449.3,263.8 C452.6,262.77 455.92,261.8 459.2,260.4 C462.48,259 466.22,256.97 469,255.4 C471.78,253.83 473.22,252.87 475.9,251 C478.58,249.13 482.28,246.43 485.1,244.2 C487.92,241.97 490.33,240 492.8,237.6 C495.27,235.2 497.23,231.67 499.9,229.8 C502.57,227.93 505.35,227.27 508.8,226.4 C512.25,225.53 517.07,225.3 520.6,224.6 C524.13,223.9 528.43,222.6 530,222.2" fill="none" stroke="#111" stroke-width="1.6"/>
<path d="M323.5,302.5 C325.38,301.78 331.27,299.23 334.8,298.2 C338.33,297.17 341.4,296.9 344.7,296.3 C348,295.7 351.32,295.27 354.6,294.6 C357.88,293.93 361.12,293.17 364.4,292.3 C367.68,291.43 371.17,290.47 374.3,289.4 C377.43,288.33 380.08,286.97 383.2,285.9 C386.32,284.83 389.88,283.98 393,283 C396.12,282.02 399.08,280.9 401.9,280 C404.72,279.1 406.93,278.33 409.9,277.6 C412.87,276.87 416.42,276.3 419.7,275.6 C422.98,274.9 426.32,274.13 429.6,273.4 C432.88,272.67 436.12,272.02 439.4,271.2 C442.68,270.38 446,269.57 449.3,268.5 C452.6,267.43 456.08,266.23 459.2,264.8 C462.32,263.37 465.22,261.78 468,259.9 C470.78,258.02 472.8,255.98 475.9,253.5 C479,251.02 483.78,247.65 486.6,245 C489.42,242.35 490.58,240.13 492.8,237.6 C495.02,235.07 497.23,231.67 499.9,229.8 C502.57,227.93 505.35,227.27 508.8,226.4 C512.25,225.53 517.07,225.3 520.6,224.6 C524.13,223.9 528.43,222.6 530,222.2" fill="none" stroke="#ff2a2a" stroke-width="1.6" stroke-dasharray="5.5,4.5"/>
<path d="M325.5,313.8 C327.72,313.02 334.78,310.33 338.8,309.1 C342.82,307.87 345.9,307.3 349.6,306.4 C353.3,305.5 357.3,304.73 361,303.7 C364.7,302.67 368.27,301.6 371.8,300.2 C375.33,298.8 378.67,296.88 382.2,295.3 C385.73,293.72 389.22,292.2 393,290.7 C396.78,289.2 401.77,287.42 404.9,286.3 C408.03,285.18 408.67,284.82 411.8,284 C414.93,283.18 419.92,282.3 423.7,281.4 C427.48,280.5 430.88,279.53 434.5,278.6 C438.12,277.67 441.78,277.03 445.4,275.8 C449.02,274.57 452.75,273.03 456.2,271.2 C459.65,269.37 463.63,266.53 466.1,264.8 C468.57,263.07 469.37,262.2 471,260.8 C472.63,259.4 474.4,257.87 475.9,256.4 C477.4,254.93 478.15,253.9 480,252 C481.85,250.1 484.87,247.4 487,245 C489.13,242.6 490.65,240.13 492.8,237.6 C494.95,235.07 497.23,231.67 499.9,229.8 C502.57,227.93 505.35,227.27 508.8,226.4 C512.25,225.53 517.07,225.3 520.6,224.6 C524.13,223.9 528.43,222.6 530,222.2" fill="none" stroke="#3a3aff" stroke-width="1.6" stroke-dasharray="1.6,3.3"/>
<path d="M329.4,322.7 C330.47,322.3 333.58,321.02 335.8,320.3 C338.02,319.58 340.72,318.95 342.7,318.4 C344.68,317.85 345.23,317.73 347.7,317 C350.17,316.27 354.22,315.15 357.5,314 C360.78,312.85 363.95,311.53 367.4,310.1 C370.85,308.67 374.42,307.22 378.2,305.4 C381.98,303.58 386.47,301 390.1,299.2 C393.73,297.4 396.7,295.9 400,294.6 C403.3,293.3 406.62,292.35 409.9,291.4 C413.18,290.45 416.42,289.75 419.7,288.9 C422.98,288.05 427.13,287 429.6,286.3 C432.07,285.6 432.03,285.48 434.5,284.7 C436.97,283.92 440.95,282.87 444.4,281.6 C447.85,280.33 451.92,278.92 455.2,277.1 C458.48,275.28 461.63,272.75 464.1,270.7 C466.57,268.65 467.87,266.77 470,264.8 C472.13,262.83 474.9,260.95 476.9,258.9 C478.9,256.85 480.13,254.77 482,252.5 C483.87,250.23 486.3,247.78 488.1,245.3 C489.9,242.82 490.83,240.18 492.8,237.6 C494.77,235.02 497.23,231.67 499.9,229.8 C502.57,227.93 505.35,227.27 508.8,226.4 C512.25,225.53 517.07,225.3 520.6,224.6 C524.13,223.9 528.43,222.6 530,222.2" fill="none" stroke="#a09a30" stroke-width="1.6" stroke-dasharray="6,2.4,1.3,2.4"/>
<path d="M323.5,337.2 C325.07,336.62 329.7,334.93 332.9,333.7 C336.1,332.47 339.42,330.92 342.7,329.8 C345.98,328.68 349.32,327.9 352.6,327 C355.88,326.1 359.12,325.5 362.4,324.4 C365.68,323.3 369.5,321.75 372.3,320.4 C375.1,319.05 375.92,318.52 379.2,316.3 C382.48,314.08 388.53,309.35 392,307.1 C395.47,304.85 397.02,304.18 400,302.8 C402.98,301.42 406.62,299.97 409.9,298.8 C413.18,297.63 416.42,296.7 419.7,295.8 C422.98,294.9 426.32,294.33 429.6,293.4 C432.88,292.47 436.12,291.47 439.4,290.2 C442.68,288.93 446,287.73 449.3,285.8 C452.6,283.87 456.23,281.03 459.2,278.6 C462.17,276.17 464.8,273.67 467.1,271.2 C469.4,268.73 471.03,266.35 473,263.8 C474.97,261.25 477.15,258.2 478.9,255.9 C480.65,253.6 481.9,251.82 483.5,250 C485.1,248.18 486.95,247.07 488.5,245 C490.05,242.93 490.9,240.13 492.8,237.6 C494.7,235.07 497.23,231.67 499.9,229.8 C502.57,227.93 505.35,227.27 508.8,226.4 C512.25,225.53 517.07,225.3 520.6,224.6 C524.13,223.9 528.43,222.6 530,222.2" fill="none" stroke="#259a25" stroke-width="1.6" stroke-dasharray="6,2.4,1.3,2.4"/>
<path d="M323.5,353.8 C325.07,353.07 329.7,350.88 332.9,349.4 C336.1,347.92 339.42,346.37 342.7,344.9 C345.98,343.43 349.32,342.13 352.6,340.6 C355.88,339.07 359.12,337.75 362.4,335.7 C365.68,333.65 369,330.6 372.3,328.3 C375.6,326 378.92,323.95 382.2,321.9 C385.48,319.85 389.03,318.02 392,316 C394.97,313.98 397.02,311.68 400,309.8 C402.98,307.92 406.62,306.12 409.9,304.7 C413.18,303.28 416.42,302.28 419.7,301.3 C422.98,300.32 426.32,299.75 429.6,298.8 C432.88,297.85 436.12,297 439.4,295.6 C442.68,294.2 446.17,292.58 449.3,290.4 C452.43,288.22 455.57,284.97 458.2,282.5 C460.83,280.03 462.8,278.13 465.1,275.6 C467.4,273.07 469.87,270.08 472,267.3 C474.13,264.52 475.98,261.53 477.9,258.9 C479.82,256.27 481.65,253.73 483.5,251.5 C485.35,249.27 487.45,247.82 489,245.5 C490.55,243.18 490.98,240.22 492.8,237.6 C494.62,234.98 497.23,231.67 499.9,229.8 C502.57,227.93 505.35,227.27 508.8,226.4 C512.25,225.53 517.07,225.3 520.6,224.6 C524.13,223.9 528.43,222.6 530,222.2" fill="none" stroke="#ff8c1a" stroke-width="1.6" stroke-dasharray="2.4,1.6"/>
<path d="M323.5,367.1 C324.23,366.53 326.33,364.68 327.9,363.7 C329.47,362.72 330.43,362.35 332.9,361.2 C335.37,360.05 339.42,358.2 342.7,356.8 C345.98,355.4 349.32,354.2 352.6,352.8 C355.88,351.4 359.77,349.8 362.4,348.4 C365.03,347 366.58,345.8 368.4,344.4 C370.22,343 371.83,341.37 373.3,340 C374.77,338.63 374.9,338.23 377.2,336.2 C379.5,334.17 383.8,330.35 387.1,327.8 C390.4,325.25 394.35,322.6 397,320.9 C399.65,319.2 400.85,318.82 403,317.6 C405.15,316.38 407.12,315.17 409.9,313.6 C412.68,312.03 416.42,309.77 419.7,308.2 C422.98,306.63 426.32,305.6 429.6,304.2 C432.88,302.8 436.45,301.2 439.4,299.8 C442.35,298.4 444.98,297.18 447.3,295.8 C449.62,294.42 451.32,293.22 453.3,291.5 C455.28,289.78 457.73,287.15 459.2,285.5 C460.67,283.85 460.47,283.82 462.1,281.6 C463.73,279.38 466.85,275.17 469,272.2 C471.15,269.23 473.17,266.52 475,263.8 C476.83,261.08 478.42,258.2 480,255.9 C481.58,253.6 483,251.68 484.5,250 C486,248.32 487.62,247.87 489,245.8 C490.38,243.73 490.98,240.27 492.8,237.6 C494.62,234.93 497.23,231.67 499.9,229.8 C502.57,227.93 505.35,227.27 508.8,226.4 C512.25,225.53 517.07,225.3 520.6,224.6 C524.13,223.9 528.43,222.6 530,222.2" fill="none" stroke="#ff2a9a" stroke-width="1.6" stroke-dasharray="4.5,1.4,1.3,1.4,1.3,1.4"/>
<line x1="464.7" y1="283.1" x2="486.7" y2="283.1" stroke="#111" stroke-width="1.4"/>
<text transform="translate(489.2,286.6) scale(0.9300,1)" font-size="10.2" text-anchor="start" fill="#222" stroke="#222" stroke-width="0.25">400 rpm</text>
<line x1="464.7" y1="295.45" x2="486.7" y2="295.45" stroke="#ff2a2a" stroke-width="1.4" stroke-dasharray="5.5,4.5"/>
<text transform="translate(489.2,298.95) scale(0.9300,1)" font-size="10.2" text-anchor="start" fill="#222" stroke="#222" stroke-width="0.25">625</text>
<line x1="464.7" y1="307.8" x2="486.7" y2="307.8" stroke="#3a3aff" stroke-width="1.4" stroke-dasharray="1.6,3.3"/>
<text transform="translate(489.2,311.3) scale(0.9300,1)" font-size="10.2" text-anchor="start" fill="#222" stroke="#222" stroke-width="0.25">900</text>
<line x1="464.7" y1="320.15" x2="486.7" y2="320.15" stroke="#a09a30" stroke-width="1.4" stroke-dasharray="6,2.4,1.3,2.4"/>
<text transform="translate(489.2,323.65) scale(0.9300,1)" font-size="10.2" text-anchor="start" fill="#222" stroke="#222" stroke-width="0.25">1225</text>
<line x1="464.7" y1="332.5" x2="486.7" y2="332.5" stroke="#259a25" stroke-width="1.4" stroke-dasharray="6,2.4,1.3,2.4"/>
<text transform="translate(489.2,336) scale(0.9300,1)" font-size="10.2" text-anchor="start" fill="#222" stroke="#222" stroke-width="0.25">1600</text>
<line x1="464.7" y1="344.85" x2="486.7" y2="344.85" stroke="#ff8c1a" stroke-width="1.4" stroke-dasharray="2.4,1.6"/>
<text transform="translate(489.2,348.35) scale(0.9300,1)" font-size="10.2" text-anchor="start" fill="#222" stroke="#222" stroke-width="0.25">2025</text>
<line x1="464.7" y1="357.2" x2="486.7" y2="357.2" stroke="#ff2a9a" stroke-width="1.4" stroke-dasharray="4.5,1.4,1.3,1.4,1.3,1.4"/>
<text transform="translate(489.2,360.7) scale(0.9300,1)" font-size="10.2" text-anchor="start" fill="#222" stroke="#222" stroke-width="0.25">2500</text>
<text x="533.5" y="236" style="font-family:Liberation Serif, Times New Roman, serif;font-weight:bold;font-size:22.5px" fill="#111">(f)</text>
<rect x="576.8" y="213.9" width="206.2" height="161.3" fill="none" stroke="#1a1a1a" stroke-width="1.1"/>
<line x1="591" y1="375.2" x2="591" y2="379.2" stroke="#1a1a1a" stroke-width="1"/>
<line x1="650.25" y1="375.2" x2="650.25" y2="379.2" stroke="#1a1a1a" stroke-width="1"/>
<line x1="709.5" y1="375.2" x2="709.5" y2="379.2" stroke="#1a1a1a" stroke-width="1"/>
<line x1="768.75" y1="375.2" x2="768.75" y2="379.2" stroke="#1a1a1a" stroke-width="1"/>
<line x1="620.62" y1="375.2" x2="620.62" y2="377.7" stroke="#1a1a1a" stroke-width="1"/>
<line x1="679.88" y1="375.2" x2="679.88" y2="377.7" stroke="#1a1a1a" stroke-width="1"/>
<line x1="739.12" y1="375.2" x2="739.12" y2="377.7" stroke="#1a1a1a" stroke-width="1"/>
<text transform="translate(591,390.5) scale(0.9300,1)" font-size="10.2" text-anchor="middle" fill="#222" stroke="#222" stroke-width="0.25">0.02</text>
<text transform="translate(650.25,390.5) scale(0.9300,1)" font-size="10.2" text-anchor="middle" fill="#222" stroke="#222" stroke-width="0.25">0.03</text>
<text transform="translate(709.5,390.5) scale(0.9300,1)" font-size="10.2" text-anchor="middle" fill="#222" stroke="#222" stroke-width="0.25">0.04</text>
<text transform="translate(768.75,390.5) scale(0.9300,1)" font-size="10.2" text-anchor="middle" fill="#222" stroke="#222" stroke-width="0.25">0.05</text>
<line x1="576.8" y1="347.4" x2="572.8" y2="347.4" stroke="#1a1a1a" stroke-width="1"/>
<line x1="576.8" y1="309.3" x2="572.8" y2="309.3" stroke="#1a1a1a" stroke-width="1"/>
<line x1="576.8" y1="271.2" x2="572.8" y2="271.2" stroke="#1a1a1a" stroke-width="1"/>
<line x1="576.8" y1="233.1" x2="572.8" y2="233.1" stroke="#1a1a1a" stroke-width="1"/>
<line x1="576.8" y1="366.45" x2="574.3" y2="366.45" stroke="#1a1a1a" stroke-width="1"/>
<line x1="576.8" y1="328.35" x2="574.3" y2="328.35" stroke="#1a1a1a" stroke-width="1"/>
<line x1="576.8" y1="290.25" x2="574.3" y2="290.25" stroke="#1a1a1a" stroke-width="1"/>
<line x1="576.8" y1="252.15" x2="574.3" y2="252.15" stroke="#1a1a1a" stroke-width="1"/>
<line x1="576.8" y1="214.05" x2="574.3" y2="214.05" stroke="#1a1a1a" stroke-width="1"/>
<text transform="translate(570,350.8) scale(0.9300,1)" font-size="10.2" text-anchor="end" fill="#222" stroke="#222" stroke-width="0.25">0.2</text>
<text transform="translate(570,312.7) scale(0.9300,1)" font-size="10.2" text-anchor="end" fill="#222" stroke="#222" stroke-width="0.25">0.3</text>
<text transform="translate(570,274.6) scale(0.9300,1)" font-size="10.2" text-anchor="end" fill="#222" stroke="#222" stroke-width="0.25">0.4</text>
<text transform="translate(570,236.5) scale(0.9300,1)" font-size="10.2" text-anchor="end" fill="#222" stroke="#222" stroke-width="0.25">0.5</text>
<text transform="translate(657,403) scale(0.9300,1)" font-size="10.2" text-anchor="start" fill="#222" stroke="#222" stroke-width="0.25"><tspan font-weight="bold">&#969;</tspan><tspan font-size="5.8" dy="-4">-1/2</tspan><tspan dy="4"> /rpm</tspan><tspan font-size="5.8" dy="-4">-1/2</tspan></text>
<text transform="translate(552.8,303.1) rotate(-90) scale(1.0400,1)" font-size="10.2" text-anchor="middle" fill="#222" stroke="#222" stroke-width="0.25">J<tspan font-size="6" dy="-4">-1</tspan><tspan dy="4"> /mA</tspan><tspan font-size="6" dy="-4">-1</tspan><tspan dy="4">cm</tspan><tspan font-size="6" dy="-4">2</tspan></text>
<path d="M591,327.02 L604.17,321.13 L620.62,313.78 L641.79,304.32 L670,291.71 L709.5,274.06 L768.75,247.58" fill="none" stroke="#800080" stroke-width="1.4"/>
<circle cx="591" cy="327.02" r="2.75" fill="#800080"/>
<circle cx="604.17" cy="321.13" r="2.75" fill="#800080"/>
<circle cx="620.62" cy="313.78" r="2.75" fill="#800080"/>
<circle cx="641.79" cy="304.32" r="2.75" fill="#800080"/>
<circle cx="670" cy="291.71" r="2.75" fill="#800080"/>
<circle cx="709.5" cy="274.06" r="2.75" fill="#800080"/>
<circle cx="768.75" cy="247.58" r="2.75" fill="#800080"/>
<path d="M591,340.16 L604.17,334.18 L620.62,326.7 L641.79,317.08 L670,304.26 L709.5,286.31 L768.75,259.39" fill="none" stroke="#9a2aff" stroke-width="1.4"/>
<path d="M594.19,340.16 L588.61,336.97 L588.61,343.35 Z" fill="#9a2aff"/>
<path d="M607.35,334.18 L601.78,330.99 L601.78,337.37 Z" fill="#9a2aff"/>
<path d="M623.81,326.7 L618.23,323.51 L618.23,329.89 Z" fill="#9a2aff"/>
<path d="M644.97,317.08 L639.4,313.9 L639.4,320.27 Z" fill="#9a2aff"/>
<path d="M673.19,304.26 L667.61,301.07 L667.61,307.45 Z" fill="#9a2aff"/>
<path d="M712.69,286.31 L707.11,283.13 L707.11,289.5 Z" fill="#9a2aff"/>
<path d="M771.94,259.39 L766.36,256.2 L766.36,262.58 Z" fill="#9a2aff"/>
<path d="M591,347.4 L604.17,341.39 L620.62,333.87 L641.79,324.21 L670,311.33 L709.5,293.3 L768.75,266.25" fill="none" stroke="#10108c" stroke-width="1.4"/>
<path d="M587.81,347.4 L593.39,344.21 L593.39,350.59 Z" fill="#10108c"/>
<path d="M600.98,341.39 L606.56,338.2 L606.56,344.58 Z" fill="#10108c"/>
<path d="M617.44,333.87 L623.02,330.69 L623.02,337.06 Z" fill="#10108c"/>
<path d="M638.6,324.21 L644.18,321.03 L644.18,327.4 Z" fill="#10108c"/>
<path d="M666.81,311.33 L672.39,308.14 L672.39,314.52 Z" fill="#10108c"/>
<path d="M706.31,293.3 L711.89,290.11 L711.89,296.49 Z" fill="#10108c"/>
<path d="M765.56,266.25 L771.14,263.06 L771.14,269.43 Z" fill="#10108c"/>
<path d="M591,353.88 L604.17,347.84 L620.62,340.29 L641.79,330.58 L670,317.64 L709.5,299.52 L768.75,272.34" fill="none" stroke="#1f981f" stroke-width="1.4"/>
<path d="M591,350.56 L594.32,353.88 L591,357.19 L587.68,353.88 Z" fill="#1f981f"/>
<path d="M604.17,344.52 L607.48,347.84 L604.17,351.15 L600.85,347.84 Z" fill="#1f981f"/>
<path d="M620.62,336.97 L623.94,340.29 L620.62,343.6 L617.31,340.29 Z" fill="#1f981f"/>
<path d="M641.79,327.27 L645.1,330.58 L641.79,333.9 L638.47,330.58 Z" fill="#1f981f"/>
<path d="M670,314.32 L673.32,317.64 L670,320.95 L666.68,317.64 Z" fill="#1f981f"/>
<path d="M709.5,296.21 L712.82,299.52 L709.5,302.84 L706.18,299.52 Z" fill="#1f981f"/>
<path d="M768.75,269.03 L772.07,272.34 L768.75,275.66 L765.43,272.34 Z" fill="#1f981f"/>
<path d="M591,359.21 L604.17,353.2 L620.62,345.69 L641.79,336.02 L670,323.14 L709.5,305.11 L768.75,278.06" fill="none" stroke="#ff1aff" stroke-width="1.4"/>
<path d="M591,362.4 L594.19,356.82 L587.81,356.82 Z" fill="#ff1aff"/>
<path d="M604.17,356.39 L607.35,350.81 L600.98,350.81 Z" fill="#ff1aff"/>
<path d="M620.62,348.87 L623.81,343.29 L617.44,343.29 Z" fill="#ff1aff"/>
<path d="M641.79,339.21 L644.97,333.63 L638.6,333.63 Z" fill="#ff1aff"/>
<path d="M670,326.33 L673.19,320.75 L666.81,320.75 Z" fill="#ff1aff"/>
<path d="M709.5,308.3 L712.69,302.72 L706.31,302.72 Z" fill="#ff1aff"/>
<path d="M768.75,281.25 L771.94,275.67 L765.56,275.67 Z" fill="#ff1aff"/>
<path d="M591,363.4 L604.17,357.45 L620.62,350 L641.79,340.43 L670,327.67 L709.5,309.81 L768.75,283.01" fill="none" stroke="#1a1aff" stroke-width="1.4"/>
<path d="M591,359.7 L594.7,366.18 L587.3,366.18 Z" fill="#1a1aff"/>
<path d="M604.17,353.75 L607.86,360.22 L600.47,360.22 Z" fill="#1a1aff"/>
<path d="M620.62,346.31 L624.32,352.78 L616.93,352.78 Z" fill="#1a1aff"/>
<path d="M641.79,336.74 L645.48,343.21 L638.09,343.21 Z" fill="#1a1aff"/>
<path d="M670,323.98 L673.7,330.45 L666.3,330.45 Z" fill="#1a1aff"/>
<path d="M709.5,306.11 L713.2,312.58 L705.8,312.58 Z" fill="#1a1aff"/>
<path d="M768.75,279.31 L772.45,285.78 L765.05,285.78 Z" fill="#1a1aff"/>
<path d="M591,365.69 L604.17,359.82 L620.62,352.48 L641.79,343.05 L670,330.47 L709.5,312.86 L768.75,286.44" fill="none" stroke="#ff1a1a" stroke-width="1.4"/>
<circle cx="591" cy="365.69" r="2.75" fill="#ff1a1a"/>
<circle cx="604.17" cy="359.82" r="2.75" fill="#ff1a1a"/>
<circle cx="620.62" cy="352.48" r="2.75" fill="#ff1a1a"/>
<circle cx="641.79" cy="343.05" r="2.75" fill="#ff1a1a"/>
<circle cx="670" cy="330.47" r="2.75" fill="#ff1a1a"/>
<circle cx="709.5" cy="312.86" r="2.75" fill="#ff1a1a"/>
<circle cx="768.75" cy="286.44" r="2.75" fill="#ff1a1a"/>
<path d="M591,367.59 L604.17,361.69 L620.62,354.32 L641.79,344.84 L670,332.2 L709.5,314.51 L768.75,287.96" fill="none" stroke="#111" stroke-width="1.4"/>
<rect x="588.45" y="365.04" width="5.1" height="5.1" fill="#111"/>
<rect x="601.62" y="359.14" width="5.1" height="5.1" fill="#111"/>
<rect x="618.08" y="351.77" width="5.1" height="5.1" fill="#111"/>
<rect x="639.24" y="342.29" width="5.1" height="5.1" fill="#111"/>
<rect x="667.45" y="329.65" width="5.1" height="5.1" fill="#111"/>
<rect x="706.95" y="311.96" width="5.1" height="5.1" fill="#111"/>
<rect x="766.2" y="285.41" width="5.1" height="5.1" fill="#111"/>
<line x1="579.2" y1="223.3" x2="601.5" y2="223.3" stroke="#111" stroke-width="1.4"/>
<rect x="587.8" y="220.9" width="4.8" height="4.8" fill="#111"/>
<text transform="translate(603.6,226.8) scale(0.9300,1)" font-size="10.2" text-anchor="start" fill="#222" stroke="#222" stroke-width="0.25">0 V</text>
<line x1="579.2" y1="235.7" x2="601.5" y2="235.7" stroke="#ff1a1a" stroke-width="1.4"/>
<circle cx="590.2" cy="235.7" r="2.6" fill="#ff1a1a"/>
<text transform="translate(603.6,239.2) scale(0.9300,1)" font-size="10.2" text-anchor="start" fill="#222" stroke="#222" stroke-width="0.25">0.1</text>
<line x1="579.2" y1="248.1" x2="601.5" y2="248.1" stroke="#1a1aff" stroke-width="1.4"/>
<path d="M590.2,244.62 L593.68,250.71 L586.72,250.71 Z" fill="#1a1aff"/>
<text transform="translate(603.6,251.6) scale(0.9300,1)" font-size="10.2" text-anchor="start" fill="#222" stroke="#222" stroke-width="0.25">0.2</text>
<line x1="579.2" y1="260.5" x2="601.5" y2="260.5" stroke="#ff1aff" stroke-width="1.4"/>
<path d="M590.2,263.5 L593.2,258.25 L587.2,258.25 Z" fill="#ff1aff"/>
<text transform="translate(603.6,264) scale(0.9300,1)" font-size="10.2" text-anchor="start" fill="#222" stroke="#222" stroke-width="0.25">0.3</text>
<line x1="579.2" y1="272.9" x2="601.5" y2="272.9" stroke="#1f981f" stroke-width="1.4"/>
<path d="M590.2,269.78 L593.32,272.9 L590.2,276.02 L587.08,272.9 Z" fill="#1f981f"/>
<text transform="translate(603.6,276.4) scale(0.9300,1)" font-size="10.2" text-anchor="start" fill="#222" stroke="#222" stroke-width="0.25">0.4</text>
<line x1="579.2" y1="285.3" x2="601.5" y2="285.3" stroke="#10108c" stroke-width="1.4"/>
<path d="M587.2,285.3 L592.45,282.3 L592.45,288.3 Z" fill="#10108c"/>
<text transform="translate(603.6,288.8) scale(0.9300,1)" font-size="10.2" text-anchor="start" fill="#222" stroke="#222" stroke-width="0.25">0.5</text>
<line x1="579.2" y1="297.7" x2="601.5" y2="297.7" stroke="#9a2aff" stroke-width="1.4"/>
<path d="M593.2,297.7 L587.95,294.7 L587.95,300.7 Z" fill="#9a2aff"/>
<text transform="translate(603.6,301.2) scale(0.9300,1)" font-size="10.2" text-anchor="start" fill="#222" stroke="#222" stroke-width="0.25">0.6</text>
<line x1="579.2" y1="310.1" x2="601.5" y2="310.1" stroke="#800080" stroke-width="1.4"/>
<circle cx="590.2" cy="310.1" r="2.6" fill="#800080"/>
<text transform="translate(603.6,313.6) scale(0.9300,1)" font-size="10.2" text-anchor="start" fill="#222" stroke="#222" stroke-width="0.25">0.7</text>
</g>
</svg>
</body></html>
